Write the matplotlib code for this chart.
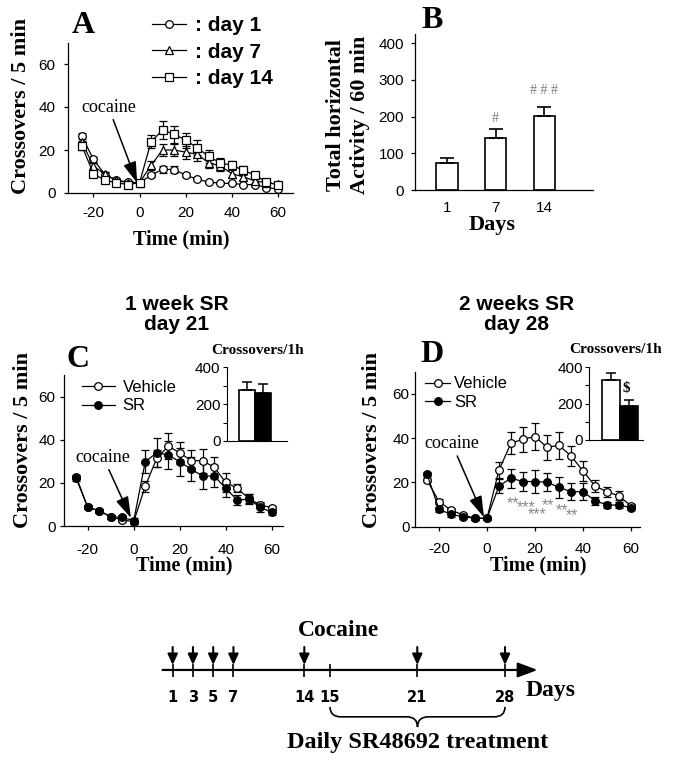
import numpy as np
import matplotlib
matplotlib.use('Agg')
import matplotlib.pyplot as plt
from matplotlib.path import Path
from matplotlib.patches import PathPatch
from matplotlib.ticker import MultipleLocator

plt.rcParams['font.family'] = ['Liberation Sans', 'DejaVu Sans']
plt.rcParams['axes.unicode_minus'] = False
SERIF = 'Liberation Serif'

# ---------------- data ----------------
time_min = [-25, -20, -15, -10, -5, 0, 5, 10, 15, 20, 25, 30, 35, 40, 45, 50, 55, 60]

# Panel A
day1 = [26.5, 15.6, 8.6, 5.9, 5.1, 4.8, 8.3, 11.0, 10.9, 8.3, 6.4, 5.1, 4.5, 4.5, 3.9, 3.9, 2.5, 1.9]
day1_err = [1.5, 1.0, 1.0, 0.5, 0.5, 0.5, 1.0, 1.5, 1.5, 1.0, 0.5, 0.5, 0.5, 0.5, 0.5, 0.5, 0.5, 0.5]
day7 = [23.8, 12.6, 8.7, 5.9, 4.8, 4.8, 12.9, 20.0, 20.0, 19.0, 18.0, 14.0, 12.6, 9.0, 7.5, 5.6, 4.8, 4.0]
day7_err = [2.5, 1.5, 1.0, 1.0, 0.8, 0.8, 2.0, 3.0, 3.0, 3.0, 3.0, 2.5, 2.5, 2.0, 1.5, 1.5, 1.0, 1.0]
day14 = [22.0, 9.0, 5.9, 4.8, 3.9, 4.8, 23.8, 29.3, 27.3, 24.6, 21.0, 17.0, 14.0, 12.9, 10.6, 8.3, 5.1, 3.9]
day14_err = [2.0, 1.0, 1.0, 0.8, 0.8, 0.8, 3.0, 4.2, 4.0, 3.5, 3.5, 3.0, 2.5, 2.0, 2.0, 1.5, 1.0, 1.0]
legend_a = [': day 1', ': day 7', ': day 14']

# Panel B
days_b = ['1', '7', '14']
total_b = [72.7, 143, 201]
total_b_err = [14, 22, 26]
sig_b = ['', '#', '# # #']

# Panel C (day 21)
veh_c = [22.9, 8.7, 7.1, 4.3, 2.8, 2.0, 18.5, 31.4, 37.0, 34.0, 30.3, 30.3, 27.2, 20.2, 17.5, 12.8, 9.7, 8.5]
veh_c_err = [1, 1, 1, 1, 1, 1, 2.5, 4, 6, 5, 5, 5.5, 5, 4.3, 1.8, 2, 1.5, 1]
sr_c = [22.1, 8.7, 7.1, 4.3, 4.0, 2.5, 29.8, 34.0, 33.0, 29.8, 26.3, 23.2, 23.2, 17.5, 12.0, 12.5, 8.7, 6.3]
sr_c_err = [1, 1, 1, 1, 1, 1, 5.3, 6.8, 6.5, 6.6, 5.5, 6.2, 5, 3.9, 2.2, 2.5, 2, 1]
inset_c = [274, 260]
inset_c_err = [43, 47]

# Panel D (day 28)
veh_d = [21.1, 11.3, 7.5, 5.3, 3.8, 3.8, 25.6, 37.7, 39.5, 40.7, 35.9, 36.7, 32.0, 25.2, 18.4, 15.8, 13.9, 9.4]
veh_d_err = [1, 1, 1, 1, 0.8, 0.8, 3.5, 5, 5.7, 6, 5.6, 6, 4.5, 4.5, 2.7, 2.3, 2, 1]
sr_d = [23.8, 7.8, 5.6, 4.5, 3.8, 3.8, 18.4, 21.9, 20.4, 20.4, 20.1, 17.8, 15.8, 15.8, 11.8, 9.8, 9.8, 8.6]
sr_d_err = [1, 1, 1, 1, 0.8, 0.8, 3, 4.2, 4.5, 5, 4, 4.8, 3.8, 3.8, 1.8, 1.5, 1.5, 1]
inset_d = [327, 185]
inset_d_err = [40, 37]
star_t = [11, 16.5, 20.7, 25.5, 31.1, 35.3]
star_y = [12.8, 11.0, 7.9, 12.1, 9.8, 7.2]
star_lab = ['**', '***', '***', '**', '**', '**']

# Timeline
arrow_days = [1, 3, 5, 7, 14, 21, 28]
tick_days = [1, 3, 5, 7, 14, 15, 21, 28]
group_labels = ['Vehicle', 'SR']

# ---------------- figure ----------------
W, H = 675, 765
fig = plt.figure(figsize=(W / 100, H / 100), dpi=100)


def px_axes(l, t, r, b):
    return fig.add_axes([l / W, 1 - b / H, (r - l) / W, (b - t) / H])


def style_axes(ax):
    for s in ('top', 'right'):
        ax.spines[s].set_visible(False)
    for s in ('left', 'bottom'):
        ax.spines[s].set_linewidth(0.9)


ARROW = '-|>,head_length=0.65,head_width=0.2'


def series(ax, y, err, marker, face):
    return ax.errorbar(time_min, y, yerr=err, fmt='-', marker=marker, ms=5.5,
                       mfc=face, mec='black', mew=0.9, color='black', lw=0.9,
                       elinewidth=0.9, capsize=2.6, capthick=0.9)


def line_panel(ax, xlim, ypad, xpad):
    style_axes(ax)
    ax.set_xlim(*xlim)
    ax.set_ylim(0, 70)
    ax.set_xticks([-20, 0, 20, 40, 60])
    ax.set_yticks([0, 20, 40, 60])
    ax.tick_params(axis='y', direction='out', length=3, width=0.9, pad=ypad, labelsize=11)
    ax.tick_params(axis='x', direction='out', length=3, width=0.9, pad=xpad, labelsize=11)
    ax.set_xlabel('Time (min)', fontfamily=SERIF, fontweight='bold', fontsize=14.5, va='center')
    ax.set_ylabel('Crossovers / 5 min', fontfamily=SERIF, fontweight='bold', fontsize=16, va='center')


def cocaine(ax, tip, txt):
    ax.annotate('cocaine', xy=tip, xytext=txt, ha='center', va='center',
                fontfamily=SERIF, fontsize=13,
                arrowprops=dict(arrowstyle=ARROW, mutation_scale=20, color='black',
                                lw=1.1, shrinkA=1, shrinkB=0))


# ---- Panel A ----
axA = px_axes(68, 42.5, 293, 193)
line_panel(axA, (-31, 66.5), 6, 6.5)
hA = []
for y, e, m in ((day1, day1_err, 'o'), (day7, day7_err, '^'), (day14, day14_err, 's')):
    c = series(axA, y, e, m, 'white')
    hA.append(c[0])
axA.xaxis.set_label_coords(0.504, -0.312)
axA.yaxis.set_label_coords(-0.209, 0.578)
cocaine(axA, (-1, 4.6), (-13.5, 40))
fig.legend(hA, legend_a, loc='upper left', bbox_to_anchor=(152 / W, 1 - 16 / H),
           frameon=False, prop=dict(weight='bold', size=15), handlelength=1.65,
           handletextpad=0.4, labelspacing=0.36, borderpad=0, borderaxespad=0)
fig.text(83.3 / W, 1 - 33 / H, 'A', fontfamily=SERIF, fontweight='bold', fontsize=23,
         ha='center', va='baseline')

# ---- Panel B ----
axB = px_axes(415, 34, 593, 190)
style_axes(axB)
xb = np.arange(len(days_b))
axB.bar(xb, total_b, width=0.44, color='white', edgecolor='black', lw=1.2,
        yerr=[np.zeros(len(total_b)), total_b_err], capsize=5,
        error_kw=dict(elinewidth=1.2, capthick=1.2))
axB.set_xlim(-0.66, 3.0)
axB.set_ylim(0, 425)
axB.set_xticks(xb)
axB.set_xticklabels(days_b)
axB.set_yticks([0, 100, 200, 300, 400])
axB.tick_params(axis='x', length=0, pad=8, labelsize=11)
axB.tick_params(axis='y', direction='out', length=3, width=0.9, pad=5, labelsize=11)
for i, (v, e, s) in enumerate(zip(total_b, total_b_err, sig_b)):
    if s:
        axB.text(i, v + e + 30 + 14 * (len(s) > 1), s, ha='center', va='center',
                 color='#7a7a7a', fontfamily=SERIF, fontsize=10)
axB.set_xlabel('Days', fontfamily=SERIF, fontweight='bold', fontsize=16, va='center')
axB.xaxis.set_label_coords(0.433, -0.2245)
axB.set_ylabel('Total horizontal\nActivity / 60 min', fontfamily=SERIF, fontweight='bold',
               fontsize=16, va='center', linespacing=1.3)
axB.yaxis.set_label_coords(-0.376, 0.481)
fig.text(431.7 / W, 1 - 28.3 / H, 'B', fontfamily=SERIF, fontweight='bold', fontsize=23,
         ha='center', va='baseline')


# ---- Panels C & D ----
def inset(rect, vals, errs, xlim, title_pos, mark=None):
    ax = px_axes(*rect)
    for s in ('top', 'right'):
        ax.spines[s].set_visible(False)
    for s in ('left', 'bottom'):
        ax.spines[s].set_linewidth(0.8)
    xi = np.arange(len(vals))
    ax.bar(xi, vals, width=1.0, color=['white', 'black'], edgecolor='black', lw=1.2,
           yerr=[np.zeros(len(vals)), errs], capsize=3.5,
           error_kw=dict(elinewidth=1.1, capthick=1.1))
    ax.set_xlim(*xlim)
    ax.set_ylim(0, 402)
    ax.set_xticks([])
    ax.set_yticks([0, 200, 400])
    ax.yaxis.set_minor_locator(MultipleLocator(100))
    ax.tick_params(axis='y', which='both', direction='out', length=3, width=0.8,
                   pad=1.5, labelsize=11)
    ax.text(title_pos[0], title_pos[1], 'Crossovers/1h', transform=ax.transAxes,
            ha='center', va='center', fontfamily=SERIF, fontweight='bold', fontsize=11)
    if mark:
        ax.text(0.85, 282, mark, ha='center', va='center', fontfamily=SERIF,
                fontweight='bold', fontsize=11)
    return ax


def heading(xc, title):
    fig.text(xc / W, 1 - 294.5 / H, title, ha='center', va='top', fontweight='bold',
             fontsize=15, linespacing=1.12)


# C
axC = px_axes(64, 375.2, 283.3, 526)
line_panel(axC, (-30.3, 65), 3, 9)
cv = series(axC, veh_c, veh_c_err, 'o', 'white')
cs = series(axC, sr_c, sr_c_err, 'o', 'black')
axC.xaxis.set_label_coords(0.547, -0.259)
axC.yaxis.set_label_coords(-0.187, 0.570)
cocaine(axC, (-1.2, 3.7), (-13.3, 32))
axC.legend([cv[0], cs[0]], group_labels, loc='upper left',
           bbox_to_anchor=(81.7 / W, 1 - 380 / H), bbox_transform=fig.transFigure,
           frameon=False, fontsize=12, handlelength=2.0, handletextpad=0.45,
           labelspacing=0.2, borderpad=0, borderaxespad=0)
inset((226.7, 366.7, 287.3, 441), inset_c, inset_c_err, (-1.27, 2.48), (0.516, 1.224))
heading(176.7, '1 week SR\nday 21')
fig.text(77.5 / W, 1 - 366.7 / H, 'C', fontfamily=SERIF, fontweight='bold', fontsize=23,
         ha='center', va='baseline')

# D
axD = px_axes(415, 371.7, 640, 526.7)
line_panel(axD, (-30, 63.75), 1, 8)
dv = series(axD, veh_d, veh_d_err, 'o', 'white')
ds = series(axD, sr_d, sr_d_err, 'o', 'black')
axD.xaxis.set_label_coords(0.548, -0.247)
axD.yaxis.set_label_coords(-0.189, 0.559)
cocaine(axD, (-1.25, 4.2), (-14.7, 37.6))
for t, y, s in zip(star_t, star_y, star_lab):
    axD.text(t, y - 4.4, s, ha='center', va='baseline', color='#8a8a8a', fontsize=11.5)
axD.legend([dv[0], ds[0]], group_labels, loc='upper left',
           bbox_to_anchor=(425 / W, 1 - 376.5 / H), bbox_transform=fig.transFigure,
           frameon=False, fontsize=12, handlelength=1.5, handletextpad=0.25,
           labelspacing=0.2, borderpad=0, borderaxespad=0)
inset((589.3, 366.7, 643, 440), inset_d, inset_d_err, (-1.18, 1.8), (0.49, 1.236), r'\$')
heading(516.7, '2 weeks SR\nday 28')
fig.text(431.7 / W, 1 - 361.7 / H, 'D', fontfamily=SERIF, fontweight='bold', fontsize=23,
         ha='center', va='baseline')

# ---- Timeline ----
TL_D = [-100, 1, 14, 15, 21, 28, 80]
TL_U = [-100, 1, 14.07, 16.62, 25.29, 34.0, 34.0 + 52 * 1.244]


def fwd(d):
    return np.interp(d, TL_D, TL_U)


def inv(u):
    return np.interp(u, TL_U, TL_D)


axT = fig.add_axes([0, 0, 1, 165 / H])
axT.set_xscale('function', functions=(fwd, inv))
axT.set_xlim(-16.15, 41.57)
axT.set_ylim(0, 1)
axT.axis('off')
tr = axT.get_xaxis_transform()
y_line = 0.576
axT.annotate('', xy=(30.6, y_line), xytext=(0.0, y_line), xycoords=tr, textcoords=tr,
             arrowprops=dict(arrowstyle='-|>,head_length=1.2,head_width=0.45',
                             mutation_scale=10, lw=1.6, color='black', shrinkA=0, shrinkB=0))
axT.vlines(tick_days, 0.533, 0.612, transform=tr, color='black', lw=1.2)
for d in arrow_days:
    axT.annotate('', xy=(d, 0.606), xytext=(d, 0.715), xycoords=tr, textcoords=tr,
                 arrowprops=dict(arrowstyle='-|>,head_length=0.65,head_width=0.3',
                                 mutation_scale=10, lw=1.5, color='black',
                                 shrinkA=0, shrinkB=0))
for d in tick_days:
    axT.text(d, 0.412, str(d), transform=tr, ha='center', va='center',
             family='DejaVu Sans', fontweight='bold', fontsize=10.5)
axT.text(0.502, 0.818, 'Cocaine', transform=axT.transAxes, ha='center', va='center',
         fontfamily=SERIF, fontweight='bold', fontsize=17)
axT.text(0.815, 0.4545, 'Days', transform=axT.transAxes, ha='center', va='center',
         fontfamily=SERIF, fontweight='bold', fontsize=17)
axT.text(0.619, 0.139, 'Daily SR48692 treatment', transform=axT.transAxes, ha='center',
         va='center', fontfamily=SERIF, fontweight='bold', fontsize=17.5)

# brace from day 15 to day 28
to_ax = axT.transAxes.inverted()
bx0 = to_ax.transform(axT.transData.transform((15, 0)))[0]
bx1 = to_ax.transform(axT.transData.transform((28, 0)))[0]
bxm = 0.5 * (bx0 + bx1)
ytop, ymid, ybot, dx = 0.352, 0.292, 0.23, 0.016
verts = [(bx0, ytop), (bx0, ymid), (bx0 + dx, ymid), (bxm - dx, ymid), (bxm, ymid), (bxm, ybot),
         (bxm, ymid), (bxm + dx, ymid), (bx1 - dx, ymid), (bx1, ymid), (bx1, ytop)]
codes = [Path.MOVETO, Path.CURVE3, Path.CURVE3, Path.LINETO, Path.CURVE3, Path.CURVE3,
         Path.CURVE3, Path.CURVE3, Path.LINETO, Path.CURVE3, Path.CURVE3]
axT.add_patch(PathPatch(Path(verts, codes), transform=axT.transAxes, fill=False, lw=1.2,
                        color='black'))

fig.savefig('out.png', dpi=100)
